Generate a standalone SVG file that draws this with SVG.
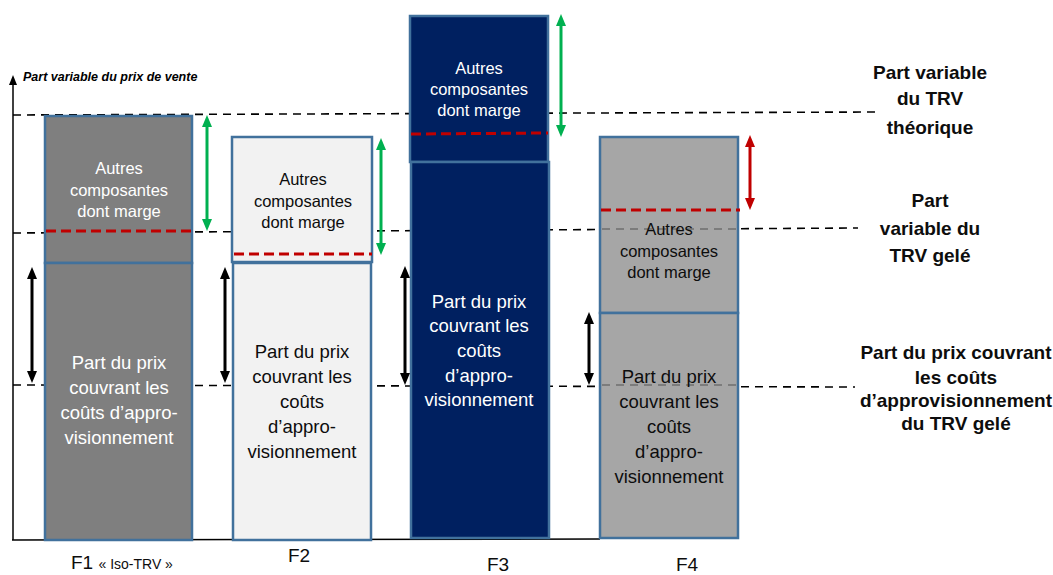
<svg xmlns="http://www.w3.org/2000/svg" width="1053" height="575" viewBox="0 0 1053 575">
<style>
text{font-family:"Liberation Sans",Arial,sans-serif;text-anchor:middle}
.box{stroke:#41719c;stroke-width:2.5}
.guide{stroke:#000;stroke-width:1.6;stroke-dasharray:8 6;fill:none}
.guide-in{stroke:#6f6f6f;stroke-width:1.6;stroke-dasharray:8 6;fill:none}
.red{stroke:#c00000;stroke-width:3;stroke-dasharray:10 5;fill:none}
.up{font-size:16.5px}
.low{font-size:18.5px}
.w{fill:#ffffff}
.k{fill:#0d0d0d}
.lbl{font-size:19px;font-weight:bold;fill:#0d0d0d}
.f{font-size:19px;fill:#0d0d0d}
.arr{stroke-width:3;fill:none}
</style>
<defs>
<marker id="hk" viewBox="0 -5 12 10" markerWidth="12" markerHeight="10" refX="2" refY="0" markerUnits="userSpaceOnUse" orient="auto-start-reverse"><path d="M0,-5 L12,0 L0,5 z" fill="#000"/></marker>
<marker id="hg" viewBox="0 -5 12 10" markerWidth="12" markerHeight="10" refX="2" refY="0" markerUnits="userSpaceOnUse" orient="auto-start-reverse"><path d="M0,-5 L12,0 L0,5 z" fill="#00b050"/></marker>
<marker id="hr" viewBox="0 -5 12 10" markerWidth="12" markerHeight="10" refX="2" refY="0" markerUnits="userSpaceOnUse" orient="auto-start-reverse"><path d="M0,-5 L12,0 L0,5 z" fill="#c00000"/></marker>
<marker id="ha" viewBox="0 -4 10 8" markerWidth="10" markerHeight="8" refX="1" refY="0" markerUnits="userSpaceOnUse" orient="auto"><path d="M0,-4 L10,0 L0,4 z" fill="#000"/></marker>
</defs>
<rect width="1053" height="575" fill="#ffffff"/>

<g id="guides">
<line class="guide" x1="13" y1="115" x2="875" y2="112"/>
<line class="guide" x1="13" y1="233" x2="858" y2="228"/>
<line class="guide" x1="13" y1="385" x2="855" y2="387"/>
</g>

<g id="axes">
<line x1="13" y1="540" x2="13" y2="84" stroke="#000" stroke-width="1.5" marker-end="url(#ha)"/>
<line x1="12" y1="540" x2="600" y2="539" stroke="#000" stroke-width="1.5"/>
<text x="23" y="81" style="font-size:12.5px;font-weight:bold;font-style:italic;text-anchor:start" fill="#000">Part variable  du prix de vente</text>
</g>

<g id="F1">
<rect class="box" x="45" y="116" width="147" height="147" fill="#7f7f7f"/>
<rect class="box" x="45" y="263" width="147" height="277" fill="#7f7f7f"/>
<line class="red" x1="46" y1="231" x2="192" y2="231"/>
<text class="up w" x="119" y="174">Autres</text>
<text class="up w" x="119" y="196">composantes</text>
<text class="up w" x="119" y="217">dont marge</text>
<text class="low w" x="119" y="369">Part du prix</text>
<text class="low w" x="119" y="394">couvrant les</text>
<text class="low w" x="119" y="419">coûts d’appro-</text>
<text class="low w" x="119" y="444">visionnement</text>
</g>

<g id="F2">
<rect class="box" x="232" y="137" width="140" height="125" fill="#f2f2f2"/>
<rect class="box" x="233" y="263" width="138" height="277" fill="#f2f2f2"/>
<line class="red" x1="234" y1="254" x2="372" y2="254"/>
<text class="up k" x="303" y="185">Autres</text>
<text class="up k" x="303" y="207">composantes</text>
<text class="up k" x="303" y="228">dont marge</text>
<text class="low k" x="302" y="358">Part du prix</text>
<text class="low k" x="302" y="383">couvrant les</text>
<text class="low k" x="302" y="408">coûts</text>
<text class="low k" x="302" y="433">d’appro-</text>
<text class="low k" x="302" y="458">visionnement</text>
</g>

<g id="F3">
<rect class="box" x="410" y="16" width="138" height="146" fill="#002060" stroke="#4a6c9b"/>
<rect class="box" x="411" y="162" width="138" height="376" fill="#002060" stroke="#4a6c9b"/>
<line class="red" x1="411" y1="134" x2="548" y2="133"/>
<text class="up w" x="479" y="74">Autres</text>
<text class="up w" x="479" y="95">composantes</text>
<text class="up w" x="479" y="116">dont marge</text>
<text class="low w" x="479" y="308">Part du prix</text>
<text class="low w" x="479" y="332">couvrant les</text>
<text class="low w" x="479" y="357">coûts</text>
<text class="low w" x="479" y="382">d’appro-</text>
<text class="low w" x="479" y="406">visionnement</text>
</g>

<g id="F4">
<rect class="box" x="600" y="137" width="138" height="176" fill="#a6a6a6"/>
<rect class="box" x="600" y="313" width="138" height="225" fill="#a6a6a6"/>
<line class="guide-in" x1="602" y1="229" x2="737" y2="229"/>
<line class="guide-in" x1="602" y1="385" x2="737" y2="385"/>
<line class="red" x1="601" y1="210" x2="740" y2="210"/>
<text class="up k" x="669" y="235">Autres</text>
<text class="up k" x="669" y="257">composantes</text>
<text class="up k" x="669" y="278">dont marge</text>
<text class="low k" x="669" y="383">Part du prix</text>
<text class="low k" x="669" y="408">couvrant les</text>
<text class="low k" x="669" y="433">coûts</text>
<text class="low k" x="669" y="458">d’appro-</text>
<text class="low k" x="669" y="483">visionnement</text>
</g>

<g id="connectors">
<line class="arr" stroke="#00b050" x1="207" y1="125" x2="207" y2="221" marker-start="url(#hg)" marker-end="url(#hg)"/>
<line class="arr" stroke="#00b050" x1="381" y1="148" x2="381" y2="245" marker-start="url(#hg)" marker-end="url(#hg)"/>
<line class="arr" stroke="#00b050" x1="561" y1="24" x2="561" y2="127" marker-start="url(#hg)" marker-end="url(#hg)"/>
<line class="arr" stroke="#c00000" x1="750" y1="145" x2="750" y2="200" marker-start="url(#hr)" marker-end="url(#hr)"/>
<line class="arr" stroke="#000" x1="32" y1="277" x2="32" y2="373" marker-start="url(#hk)" marker-end="url(#hk)"/>
<line class="arr" stroke="#000" x1="225" y1="277" x2="225" y2="373" marker-start="url(#hk)" marker-end="url(#hk)"/>
<line class="arr" stroke="#000" x1="405" y1="276" x2="405" y2="375" marker-start="url(#hk)" marker-end="url(#hk)"/>
<line class="arr" stroke="#000" x1="589" y1="322" x2="589" y2="375" marker-start="url(#hk)" marker-end="url(#hk)"/>
</g>

<g id="labels">
<text class="lbl" x="930" y="79">Part variable</text>
<text class="lbl" x="930" y="105">du TRV</text>
<text class="lbl" x="930" y="134">théorique</text>
<text class="lbl" x="930" y="207">Part</text>
<text class="lbl" x="930" y="235">variable du</text>
<text class="lbl" x="930" y="262">TRV gelé</text>
<text class="lbl" x="956" y="359">Part du prix couvrant</text>
<text class="lbl" x="956" y="384">les coûts</text>
<text class="lbl" x="956" y="407">d’approvisionnement</text>
<text class="lbl" x="956" y="430">du TRV gelé</text>
<text class="f" x="71" y="569" style="text-anchor:start">F1 <tspan style="font-size:14px">« Iso-TRV »</tspan></text>
<text class="f" x="299" y="562">F2</text>
<text class="f" x="498" y="571">F3</text>
<text class="f" x="687" y="571">F4</text>
</g>
</svg>
